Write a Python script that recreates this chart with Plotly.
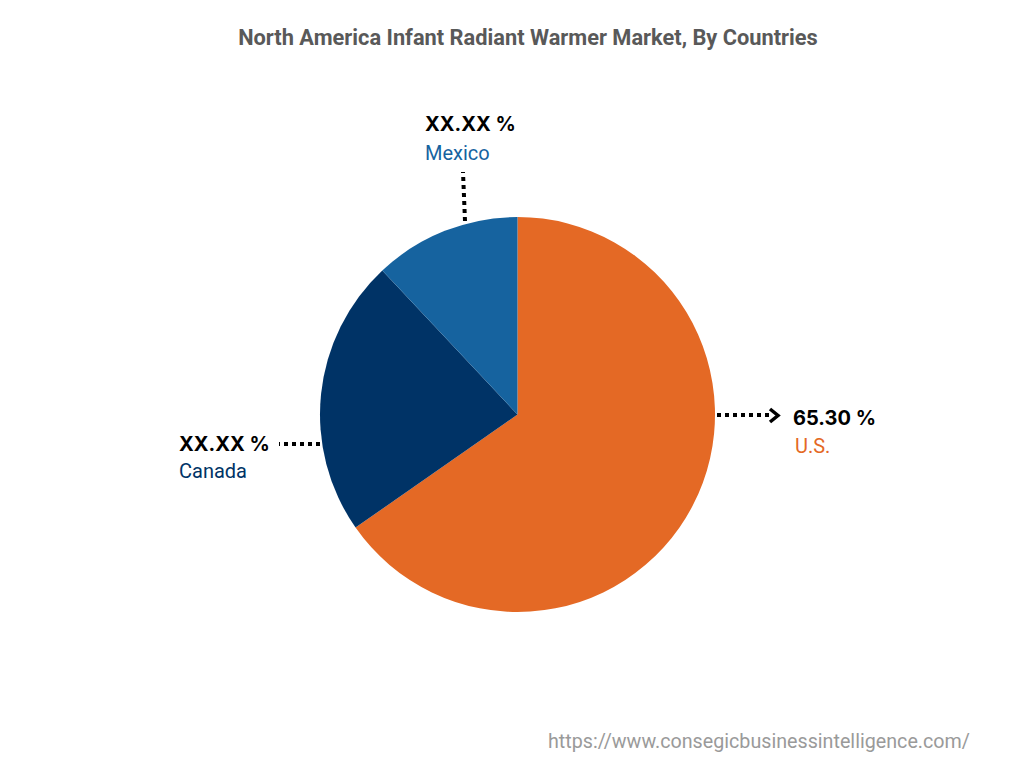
import plotly.graph_objects as go

W = 1024
H = 768

countries = ['U.S.', 'Canada', 'Mexico']
shares = [65.3, 22.7, 12.0]
share_labels = ['65.30 %', 'XX.XX %', 'XX.XX %']
colors = ['#E46925', '#003366', '#16639F']


# pixel to paper, the page body has an 8px margin
def px(x):
    return (x - 8) / W


def py(y):
    return 1 - (y - 8) / H


fig = go.Figure()
fig.add_trace(go.Pie(
    labels=countries,
    values=shares,
    sort=False,
    direction='clockwise',
    rotation=0,
    textinfo='none',
    hoverinfo='label+percent',
    showlegend=False,
    marker=dict(colors=colors, line=dict(width=0)),
    domain=dict(x=[px(320), px(715)], y=[py(612), py(217)]),
))

# dotted leader lines from the slices to the labels
leaders = [(717, 415, 772, 415), (320, 444, 279, 444), (465, 221, 463, 172)]
for x0, y0, x1, y1 in leaders:
    fig.add_shape(type='line', xref='paper', yref='paper',
                  x0=px(x0), y0=py(y0), x1=px(x1), y1=py(y1),
                  line=dict(color='black', width=4, dash='4px,4px'))

# arrow head on the U.S. leader
fig.add_shape(type='path', xref='paper', yref='paper',
              path=f'M {px(770)} {py(409)} L {px(778)} {py(415.5)} L {px(770)} {py(422)}',
              line=dict(color='black', width=3.5))

# value and country labels
label_pos = [(790.5, 418, 792.5, 446), (176.5, 444, 176.5, 471), (422.5, 124, 422.5, 153)]
for i, (vx, vy, nx, ny) in enumerate(label_pos):
    fig.add_annotation(x=px(vx), y=py(vy), xref='paper', yref='paper', xanchor='left', yanchor='middle',
                       text=f'<b>{share_labels[i]}</b>', showarrow=False,
                       font=dict(family='Inter', size=20, color='black'))
    fig.add_annotation(x=px(nx), y=py(ny), xref='paper', yref='paper', xanchor='left', yanchor='middle',
                       text=countries[i], showarrow=False,
                       font=dict(family='Roboto', size=20, color=colors[i]))

fig.add_annotation(x=px(971.5), y=py(741), xref='paper', yref='paper', xanchor='right', yanchor='middle',
                   text='https://www.consegicbusinessintelligence.com/', showarrow=False,
                   font=dict(family='Roboto', size=19.7, color='#9A9A9A'))

fig.update_layout(
    title=dict(text='<b>North America Infant Radiant Warmer Market, By Countries</b>',
               x=px(528), xanchor='center', y=py(37), yanchor='middle',
               font=dict(family='Roboto', size=21.8, color='#595959')),
    width=W,
    height=H,
    margin=dict(l=0, r=0, t=0, b=0),
    paper_bgcolor='white',
)

fig.write_html("out.html")
